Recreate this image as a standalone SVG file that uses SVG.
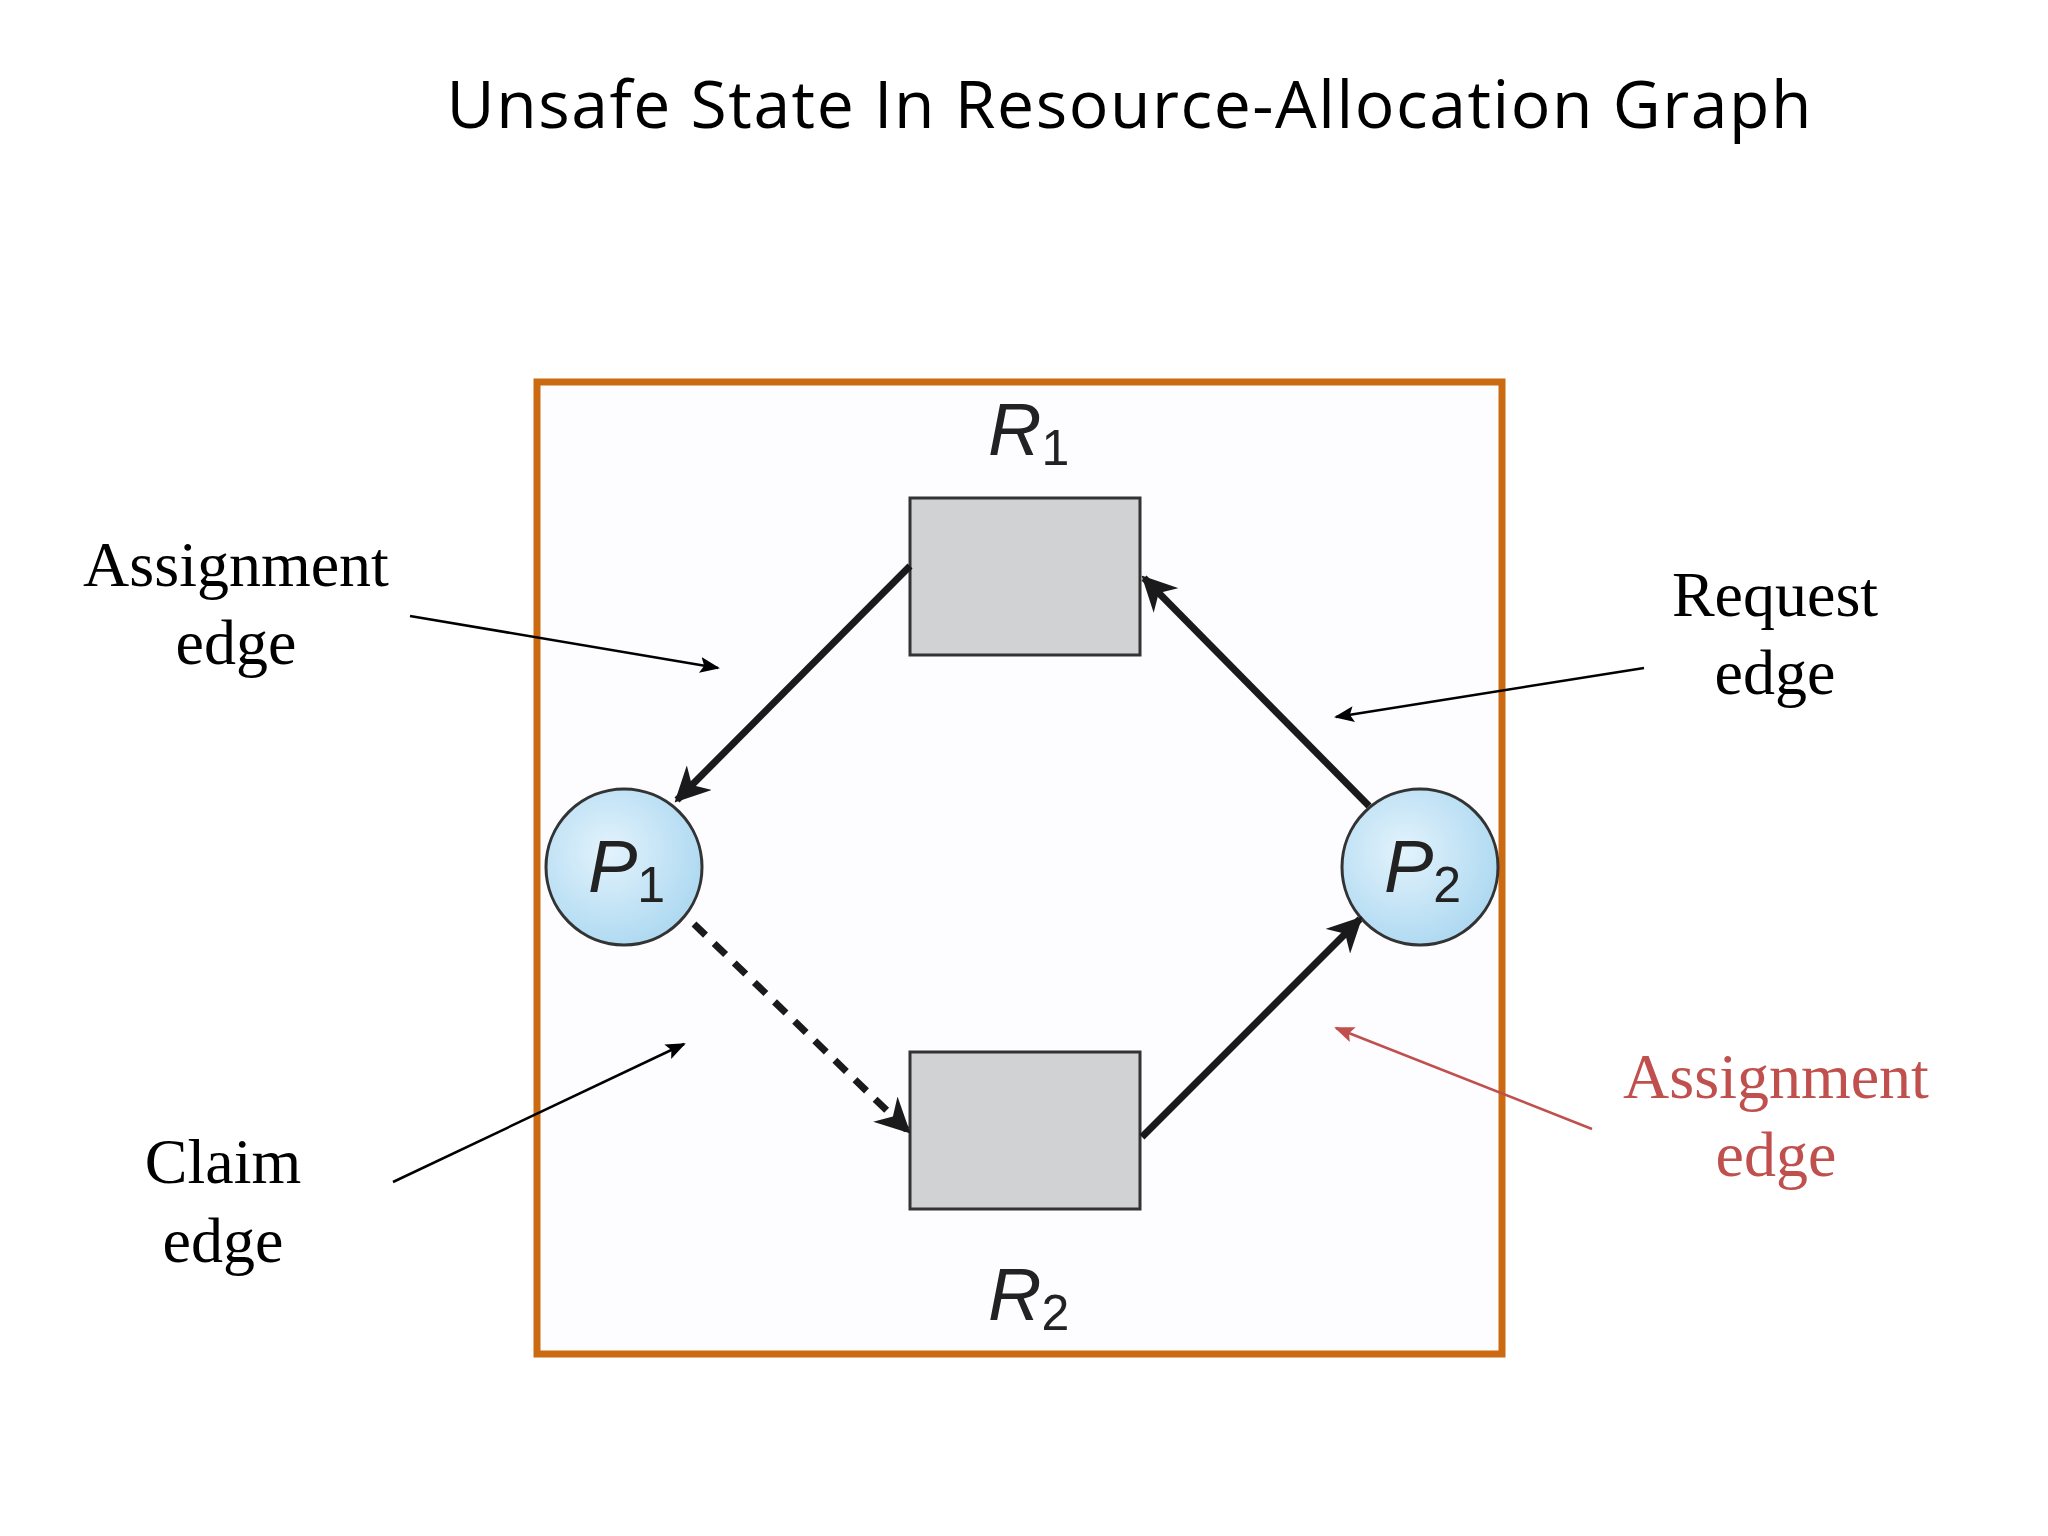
<svg xmlns="http://www.w3.org/2000/svg" width="2048" height="1536" viewBox="0 0 2048 1536">
<defs>
<marker id="big" viewBox="0 0 10 10" refX="9" refY="5" markerWidth="5" markerHeight="5" orient="auto" markerUnits="strokeWidth"><path d="M0,0 L10,5 L0,10 L3,5 z" fill="#1a1a1a"/></marker>
<marker id="thin" viewBox="0 0 10 10" refX="9" refY="5" markerWidth="8" markerHeight="8" orient="auto" markerUnits="strokeWidth"><path d="M0,1 L10,5 L0,9 L2,5 z" fill="#000"/></marker>
<marker id="thinr" viewBox="0 0 10 10" refX="9" refY="5" markerWidth="8" markerHeight="8" orient="auto" markerUnits="strokeWidth"><path d="M0,1 L10,5 L0,9 L2,5 z" fill="#c0504d"/></marker>
<radialGradient id="pg" cx="0.4" cy="0.4" r="0.7"><stop offset="0" stop-color="#e3f3fc"/><stop offset="1" stop-color="#a8d6f0"/></radialGradient>
</defs>
<style>
.lbl{font-family:"Liberation Serif",serif;font-size:64px;text-anchor:middle}
.nl{font-family:"Liberation Sans",Arial,sans-serif;font-style:italic;font-size:74px;fill:#222}
.sub{font-style:normal;font-size:50px}
.box{fill:#d1d2d4;stroke:#333;stroke-width:3}
.proc{fill:url(#pg);stroke:#333;stroke-width:3}
.e{stroke:#1a1a1a;stroke-width:7;fill:none;marker-end:url(#big)}
.t{stroke:#000;stroke-width:2.5;fill:none;marker-end:url(#thin)}
</style>
<rect width="2048" height="1536" fill="#fff"/>
<text x="1129" y="128" font-family="Open Sans, sans-serif" font-size="66" text-anchor="middle" textLength="1365" fill="#000">Unsafe State In Resource-Allocation Graph</text>
<rect x="537" y="382" width="965" height="972" fill="#fdfcfe" stroke="#cc6a12" stroke-width="7"/>
<g id="R1"><rect class="box" x="910" y="498" width="230" height="157"/><text class="nl" x="988" y="455">R<tspan class="sub" dy="10">1</tspan></text></g>
<g id="R2"><rect class="box" x="910" y="1052" width="230" height="157"/><text class="nl" x="988" y="1320">R<tspan class="sub" dy="10">2</tspan></text></g>
<g id="P1"><circle class="proc" cx="624" cy="867" r="78"/><text class="nl" x="588" y="892">P<tspan class="sub" dy="10">1</tspan></text></g>
<g id="P2"><circle class="proc" cx="1420" cy="867" r="78"/><text class="nl" x="1384" y="892">P<tspan class="sub" dy="10">2</tspan></text></g>
<g id="connectors">
<line class="e" x1="910" y1="566" x2="677" y2="800"/>
<line class="e" x1="1369" y1="806" x2="1144" y2="578"/>
<line class="e" x1="694" y1="924" x2="908" y2="1131" stroke-dasharray="16,12"/>
<line class="e" x1="1142" y1="1137" x2="1360" y2="919"/>
<line class="t" x1="410" y1="616" x2="718" y2="668"/>
<line class="t" x1="1644" y1="668" x2="1336" y2="717"/>
<line class="t" x1="393" y1="1182" x2="684" y2="1044"/>
<line x1="1592" y1="1129" x2="1336" y2="1028" stroke="#c0504d" stroke-width="2.5" marker-end="url(#thinr)"/>
</g>
<g id="labels">
<text class="lbl" x="236" y="586">Assignment</text><text class="lbl" x="236" y="664">edge</text>
<text class="lbl" x="1775" y="616">Request</text><text class="lbl" x="1775" y="694">edge</text>
<text class="lbl" x="223" y="1183">Claim</text><text class="lbl" x="223" y="1262">edge</text>
<text class="lbl" x="1776" y="1098" fill="#c0504d">Assignment</text><text class="lbl" x="1776" y="1176" fill="#c0504d">edge</text>
</g>
</svg>
